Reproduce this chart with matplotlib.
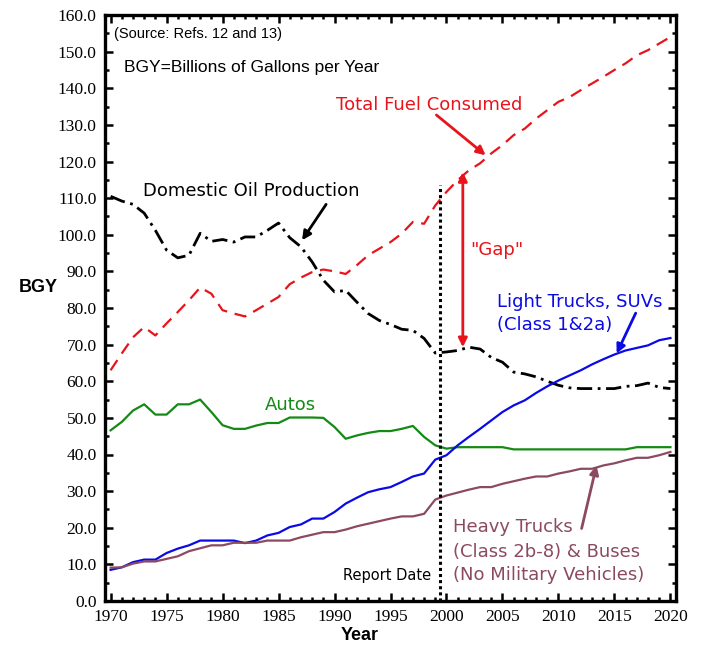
import matplotlib
matplotlib.use("Agg")
import matplotlib.pyplot as plt
from matplotlib.ticker import MultipleLocator, FormatStrFormatter

years = list(range(1970, 2021))

domestic_oil = [110.5, 109.2, 108.3, 105.9, 101.2, 95.8, 93.7, 94.4, 100.4, 98.2,
                98.7, 98.0, 99.4, 99.4, 101.2, 103.2, 99.2, 96.7, 92.6, 87.6,
                84.4, 84.8, 81.6, 78.5, 76.6, 75.5, 74.2, 73.9, 71.7, 67.7,
                68.0, 68.4, 69.3, 68.8, 66.5, 65.2, 62.5, 62.0, 61.2, 60.0,
                58.9, 58.2, 58.0, 58.0, 58.0, 58.0, 58.6, 58.8, 59.5, 58.3, 58.0]

total_fuel = [63.0, 67.6, 72.0, 74.8, 72.5, 75.8, 78.9, 82.1, 85.6, 83.9,
              79.4, 78.5, 77.7, 79.4, 81.2, 83.0, 86.5, 88.3, 89.8, 90.5,
              90.0, 89.3, 91.7, 94.4, 96.2, 98.0, 100.3, 103.5, 103.0, 108.0,
              111.7, 114.9, 117.6, 119.5, 122.2, 124.5, 127.2, 129.0, 131.7, 134.0,
              136.3, 137.6, 139.5, 141.3, 143.1, 145.0, 146.8, 149.0, 150.4, 152.2, 154.0]

autos = [46.6, 48.9, 52.0, 53.7, 50.9, 50.9, 53.7, 53.7, 55.0, 51.6,
         48.0, 47.0, 47.0, 47.9, 48.6, 48.6, 50.1, 50.1, 50.1, 50.0,
         47.5, 44.3, 45.2, 45.9, 46.4, 46.4, 47.0, 47.8, 44.8, 42.5,
         41.6, 42.0, 42.0, 42.0, 42.0, 42.0, 41.4, 41.4, 41.4, 41.4,
         41.4, 41.4, 41.4, 41.4, 41.4, 41.4, 41.4, 42.0, 42.0, 42.0, 42.0]

light_trucks = [8.5, 9.2, 10.6, 11.3, 11.3, 13.1, 14.3, 15.2, 16.5, 16.5,
                16.5, 16.5, 15.8, 16.5, 17.9, 18.6, 20.2, 20.9, 22.5, 22.5,
                24.3, 26.6, 28.2, 29.7, 30.5, 31.1, 32.5, 34.0, 34.8, 38.6,
                39.8, 42.5, 44.8, 47.0, 49.3, 51.6, 53.4, 54.8, 56.8, 58.6,
                60.2, 61.6, 63.0, 64.6, 66.0, 67.3, 68.4, 69.1, 69.8, 71.2, 71.8]

heavy_trucks = [9.1, 9.2, 10.2, 10.8, 10.8, 11.5, 12.2, 13.6, 14.4, 15.2,
                15.2, 15.9, 15.9, 15.9, 16.5, 16.5, 16.5, 17.4, 18.1, 18.8,
                18.8, 19.5, 20.4, 21.1, 21.8, 22.5, 23.1, 23.1, 23.8, 27.7,
                28.8, 29.6, 30.4, 31.1, 31.1, 32.0, 32.7, 33.4, 34.0, 34.0,
                34.8, 35.4, 36.1, 36.1, 37.0, 37.6, 38.4, 39.1, 39.1, 39.8, 40.7]

report_year = 1999.4

RED = "#E8141B"
GREEN = "#138A13"
BLUE = "#0A0AE6"
MAUVE = "#8C4A60"
SANS = "DejaVu Sans"
ARIAL = "Liberation Sans"
SERIF = "Liberation Serif"
FS = 13

fig = plt.figure(figsize=(7.01, 6.48), dpi=100)
ax = fig.add_axes([105/701, 1 - 601/648, (676 - 105)/701, (601 - 15)/648])

ax.plot(years, total_fuel, color=RED, lw=1.6, dashes=(5.5, 3.5))
ax.plot(years, domestic_oil, color="black", lw=2.0, dashes=(5.5, 2, 1, 2))
ax.plot(years, autos, color=GREEN, lw=1.6)
ax.plot(years, light_trucks, color=BLUE, lw=1.6)
ax.plot(years, heavy_trucks, color=MAUVE, lw=1.6)

ax.plot([report_year, report_year], [0, 113.5], color="black", lw=2.2, dashes=(1, 1))

ax.set_xlim(1969.5, 2020.5)
ax.set_ylim(0, 160)
ax.xaxis.set_major_locator(MultipleLocator(5))
ax.xaxis.set_minor_locator(MultipleLocator(1))
ax.yaxis.set_major_locator(MultipleLocator(10))
ax.yaxis.set_minor_locator(MultipleLocator(5))
ax.yaxis.set_major_formatter(FormatStrFormatter("%.1f"))
ax.tick_params(which="both", direction="in", top=True, right=True, width=1.8)
ax.tick_params(which="major", length=6, labelsize=12.5, pad=6)
ax.tick_params(which="minor", length=3)
for lab in ax.get_xticklabels() + ax.get_yticklabels():
    lab.set_fontfamily(SERIF)
for s in ax.spines.values():
    s.set_linewidth(2.4)

# Texts
ax.text(1970.3, 154.8, "(Source: Refs. 12 and 13)", fontsize=10.5, family=ARIAL, va="center", ha="left")
ax.text(1971.2, 145.8, "BGY=Billions of Gallons per Year", fontsize=12.5, family=ARIAL, va="center", ha="left")
ax.text(1998.5, 135.4, "Total Fuel Consumed", fontsize=FS, family=SANS, color=RED, va="center", ha="center")
ax.text(1982.6, 111.9, "Domestic Oil Production", fontsize=FS, family=SANS, color="black", va="center", ha="center")
ax.text(2002.1, 95.8, "\"Gap\"", fontsize=FS, family=SANS, color=RED, va="center", ha="left")
ax.text(2004.5, 81.6, "Light Trucks, SUVs", fontsize=FS, family=SANS, color=BLUE, va="center", ha="left")
ax.text(2004.5, 75.3, "(Class 1&2a)", fontsize=FS, family=SANS, color=BLUE, va="center", ha="left")
ax.text(1986.1, 53.4, "Autos", fontsize=FS, family=SANS, color=GREEN, va="center", ha="center")
ax.text(1998.6, 7.0, "Report Date", fontsize=10.5, family=SANS, color="black", va="center", ha="right")
ax.text(2000.6, 20.1, "Heavy Trucks", fontsize=FS, family=SANS, color=MAUVE, va="center", ha="left")
ax.text(2000.6, 13.5, "(Class 2b-8) & Buses", fontsize=FS, family=SANS, color=MAUVE, va="center", ha="left")
ax.text(2000.6, 7.0, "(No Military Vehicles)", fontsize=FS, family=SANS, color=MAUVE, va="center", ha="left")

# Arrows
def arrow(x0, y0, x1, y1, color, style="-|>"):
    ax.annotate("", xy=(x1, y1), xytext=(x0, y0),
                arrowprops=dict(arrowstyle=style, color=color, lw=2.0,
                                mutation_scale=13, shrinkA=0, shrinkB=0))

arrow(1999.1, 132.7, 2003.5, 121.7, RED)
arrow(1989.25, 108.3, 1987.1, 98.5, "black")
arrow(2001.46, 69.3, 2001.46, 117.1, RED, "<|-|>")
arrow(2016.9, 78.6, 2015.2, 67.6, BLUE)
arrow(2012.07, 19.8, 2013.4, 37.0, MAUVE)

fig.text(38/701, 1 - 288/648, "BGY", fontsize=13, family=ARIAL, weight="bold", ha="center", va="center")
fig.text(360/701, 1 - 636/648, "Year", fontsize=13, family=ARIAL, weight="bold", ha="center", va="center")

fig.savefig("out.png", dpi=100)
